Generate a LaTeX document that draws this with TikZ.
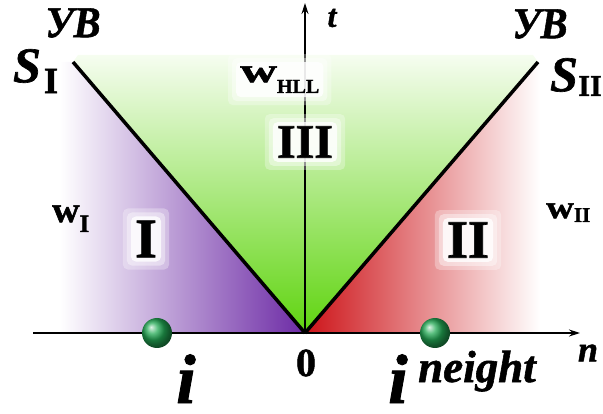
\documentclass[tikz,border=0pt]{standalone}
\usepackage{graphicx}
\usepackage{fontspec}
\setmainfont{Liberation Serif}[BoldFeatures={FakeBold=1.3},BoldItalicFeatures={FakeBold=1.3}]
\usetikzlibrary{arrows.meta}
\definecolor{purp}{RGB}{108,42,165}
\definecolor{lav}{RGB}{200,178,228}
\definecolor{grnT}{RGB}{246,253,240}
\definecolor{grnM}{RGB}{190,240,150}
\definecolor{grnB}{RGB}{95,212,15}
\definecolor{redD}{RGB}{205,20,25}
\definecolor{pinkM}{RGB}{246,180,180}
\definecolor{ballg}{RGB}{35,170,85}
\newcommand\fsz[1]{\fontsize{#1}{#1}\selectfont}
\pgfdeclarelayer{bg}
\pgfdeclarelayer{mid}
\pgfsetlayers{bg,mid,main}
\begin{document}
\begin{tikzpicture}[x=1pt,y=-1pt,
  txt/.style={inner sep=0pt, text=black},
  gl/.style={inner sep=2pt},
  shock/.style={line width=3.5pt, black},
  axisline/.style={line width=1.3pt, black, -{Stealth[length=11pt,width=7pt]}},
  ballnode/.style={circle, minimum size=30pt, inner sep=0pt, shading=ball, ball color=ballg}]
\useasboundingbox (0,0) rectangle (603,414);
\coordinate (O) at (305,333);
\coordinate (L) at (73,62);
\coordinate (R) at (538,62);
\begin{pgfonlayer}{bg}
% regions
\shade[left color=white, middle color=lav, right color=purp] (60,62) -- (L) -- (O) -- (60,333) -- cycle;
\shade[top color=grnT, middle color=grnM, bottom color=grnB] (O) -- (L) -- (78,55) -- (533,55) -- (R) -- cycle;
\shade[left color=redD, middle color=pinkM, right color=white] (O) -- (R) -- (540,62) -- (540,333) -- cycle;
% axes
\coordinate (nS) at (33,333);
\coordinate (nE) at (580,333);
\coordinate (tE) at (305,3);
\draw[axisline] (nS) -- (nE);
\draw[axisline] (O) -- (tE);
% shock lines
\draw[shock] (O) -- (L);
\draw[shock] (O) -- (R);
\end{pgfonlayer}
% labels
\node[txt, font=\bfseries\itshape\fsz{44}] (uvL) at (73,23) {\scalebox{0.92}[1]{УВ}};
\node[txt, font=\bfseries\itshape\fsz{44}] (uvR) at (540,24) {\scalebox{0.92}[1]{УВ}};
\node[txt, font=\bfseries\itshape\fsz{50}] (sL) at (27,66) {S};
\node[txt, font=\bfseries\fsz{37}] (sLi) at (51,81) {I};
\node[txt, font=\bfseries\itshape\fsz{50}] (sR) at (564,75) {S};
\node[txt, font=\bfseries\fsz{30}] (sRi) at (590,86) {II};
\node[txt, gl, font=\bfseries, anchor=base west] (wH) at (238,82)
  {{\fsz{34}\scalebox{1.5}[1]{w}}\raisebox{-11pt}{\fsz{20}HLL}};
\node[txt, font=\bfseries, anchor=base west] (wI) at (52,222)
  {{\fsz{36}\scalebox{1.05}[1]{w}}\raisebox{-10pt}{\fsz{25}I}};
\node[txt, font=\bfseries, anchor=base west] (wII) at (546,218)
  {{\fsz{32}\scalebox{1.2}[1]{w}}\raisebox{-4pt}{\fsz{21}II}};
\node[txt, gl, font=\bfseries\fsz{48}] (r3) at (305,142) {III};
\node[txt, gl, font=\bfseries\fsz{56}] (r1) at (146,239) {I};
\node[txt, gl, font=\bfseries\fsz{54}] (r2) at (468,240) {II};
\node[txt, font=\bfseries\fsz{40}] (zero) at (306,363) {0};
\node[txt, font=\bfseries\itshape\fsz{32}] (tl) at (332,18) {t};
\node[txt, font=\bfseries\itshape\fsz{36}] (nl) at (588,353) {n};
\node[txt, font=\bfseries\itshape\fsz{70}, anchor=base] (iL) at (186,403) {i};
\node[txt, font=\bfseries\itshape\fsz{70}, anchor=base] (iR) at (398,403) {i};
\node[txt, font=\bfseries\itshape\fsz{45}, anchor=base west] (ng) at (418,382) {neight};
% soft white glows behind labels
\begin{pgfonlayer}{mid}
\foreach \n in {wH,r3,r1,r2}{
  \foreach \d/\o in {10/0.3,6/0.4,2/0.8}{
    \fill[white, opacity=\o, rounded corners=5pt]
      ([shift={(-\d,\d)}]\n.south west) rectangle ([shift={(\d,-\d)}]\n.north east);
  }
}
\end{pgfonlayer}
% balls
\node[ballnode] (b1) at (157,333) {};
\node[ballnode] (b2) at (435,333) {};
\end{tikzpicture}
\end{document}
